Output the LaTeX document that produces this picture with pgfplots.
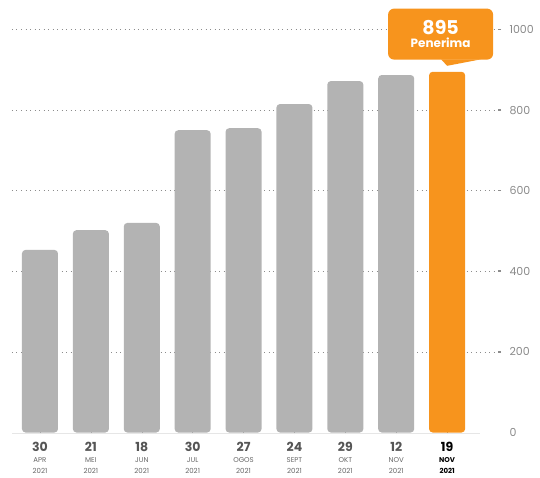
\documentclass[border=0pt]{standalone}
\usepackage{pgfplots}
\pgfplotsset{compat=1.18}
\usepackage{fontspec}
\setmainfont{Poppins}
\definecolor{barg}{HTML}{B3B3B3}
\definecolor{orng}{HTML}{F7941D}
\definecolor{daygray}{HTML}{555555}
\definecolor{smallgray}{HTML}{666666}
\definecolor{tickgray}{HTML}{8A8A8A}
\definecolor{gridgray}{HTML}{8C8C8C}
\definecolor{basegray}{HTML}{E6E6E6}
\newcommand{\dl}[3]{{\fontsize{12.5}{12}\selectfont\bfseries\color{daygray}#1}\\[-1pt]{\fontsize{7}{7}\selectfont\color{smallgray}#2}\\[-1pt]{\fontsize{7}{7}\selectfont\color{smallgray}#3}}
\newcommand{\dlb}[3]{{\fontsize{12.5}{12}\selectfont\bfseries\color{black}#1}\\[-1pt]{\fontsize{7}{7}\selectfont\bfseries\color{black}#2}\\[-1pt]{\fontsize{7}{7}\selectfont\bfseries\color{black}#3}}
\pgfplotstableread{
x y
0 453
1 502
2 520
3 750
4 755
5 815
6 872
7 887
}\greydata
\pgfplotstableread{
x y
8 895
}\orangedata
\begin{document}
\begin{tikzpicture}
\begin{axis}[
  scale only axis,
  width=486pt, height=403pt,
  xmin=-0.55, xmax=9.0,
  ymin=0, ymax=1000,
  axis x line*=bottom, axis y line*=right,
  axis line style={draw=none},
  xtick={0,...,8},
  xticklabels={{\dl{30}{APR}{2021}},{\dl{21}{MEI}{2021}},{\dl{18}{JUN}{2021}},{\dl{30}{JUL}{2021}},{\dl{27}{OGOS}{2021}},{\dl{24}{SEPT}{2021}},{\dl{29}{OKT}{2021}},{\dl{12}{NOV}{2021}},{\dlb{19}{NOV}{2021}}},
  xticklabel style={align=center, yshift=-5pt},
  x tick style={draw=gray!80, line width=0.5pt},
  major tick length=3pt,
  xtick align=center,
  ytick={200,400,600,800,1000},
  y tick style={draw=gridgray, line width=1.6pt},
  ytick align=outside,
  yticklabel style={font=\fontsize{11}{11}\selectfont, text=tickgray, xshift=5pt},
  /pgf/number format/assume math mode=true,
  /pgf/number format/1000 sep={},
  extra y ticks={0},
  extra y tick style={major grid style={draw=none}, y tick style={draw=none}},
  ymajorgrids,
  major grid style={gridgray, line width=0.6pt, dash pattern=on 1pt off 3.5pt},
  clip=false,
]
\draw[basegray, line width=1.5pt] ([yshift=-1pt]axis cs:-0.55,0) -- ([yshift=-1pt]axis cs:8.65,0);
\addplot[ybar, bar width=36pt, bar shift=0pt, fill=barg, draw=none, rounded corners=3.5pt] table[x=x,y=y]{\greydata};
\addplot[ybar, bar width=36pt, bar shift=0pt, fill=orng, draw=none, rounded corners=3.5pt] table[x=x,y=y]{\orangedata};
\node[fill=orng, rounded corners=6pt, minimum width=105pt, minimum height=51pt, anchor=south, xshift=-6.5pt, yshift=12pt, align=center, text=white, inner sep=0pt]
  at (axis cs:8,895) {{\fontsize{19}{19}\selectfont\bfseries 895}\\[1pt]{\fontsize{12}{12}\selectfont\bfseries Penerima}};
\fill[orng] ([yshift=6pt]axis cs:8,895) -- ++(-6pt,6.5pt) -- ++(12pt,0) -- cycle;
\end{axis}
\useasboundingbox ([xshift=-12pt,yshift=-44.5pt]current axis.south west) rectangle ([xshift=528pt,yshift=432.5pt]current axis.south west);
\end{tikzpicture}
\end{document}
